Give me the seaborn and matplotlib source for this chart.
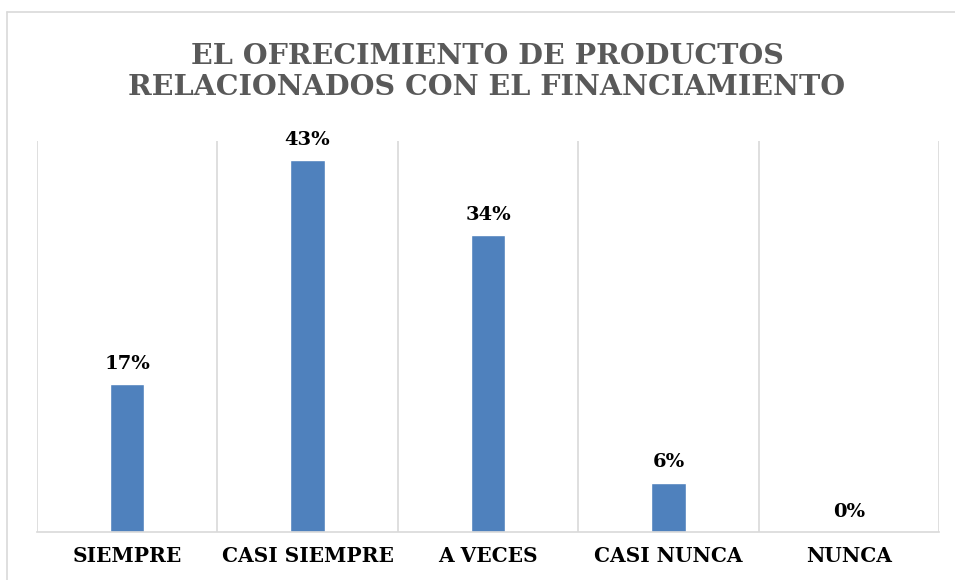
import matplotlib
matplotlib.use("Agg")
import matplotlib.pyplot as plt
from matplotlib.lines import Line2D
import pandas as pd
import seaborn as sns

categorias = ["SIEMPRE", "CASI SIEMPRE", "A VECES", "CASI NUNCA", "NUNCA"]
porcentajes = [0.171, 0.429, 0.343, 0.057, 0.0]
etiquetas = ["17%", "43%", "34%", "6%", "0%"]
titulo = "EL OFRECIMIENTO DE PRODUCTOS\nRELACIONADOS CON EL FINANCIAMIENTO"

df = pd.DataFrame({"categoria": categorias, "porcentaje": porcentajes})

sns.set_style("white")
plt.rcParams["font.family"] = ["DejaVu Serif", "DejaVu Sans"]

fig = plt.figure(figsize=(9.55, 5.8), dpi=100)
ax = fig.add_axes([37 / 955, 1 - 532 / 580, (939 - 37) / 955, (532 - 141) / 580])

sns.barplot(data=df, x="categoria", y="porcentaje", color="#4F81BD",
            saturation=1, width=0.19, ax=ax)

ax.set_ylim(0, 0.451)
ax.set_xlim(-0.5, len(categorias) - 0.5)

# separadores verticales entre categorias
for i in range(len(categorias) + 1):
    ax.axvline(i - 0.5, color="#d9d9d9", lw=1.2, zorder=0)

for s in ["top", "right", "left"]:
    ax.spines[s].set_visible(False)
ax.spines["bottom"].set_color("#d9d9d9")
ax.spines["bottom"].set_linewidth(1.2)

ax.set_yticks([])
ax.set_xlabel("")
ax.set_ylabel("")
ax.tick_params(axis="x", length=0, pad=10)
ax.set_xticks(range(len(categorias)))
ax.set_xticklabels(categorias, fontsize=14.5, fontweight="bold", color="black")

ax.bar_label(ax.containers[0], labels=etiquetas, padding=8,
             fontsize=14, fontweight="bold", color="black")

fig.text(487 / 955, 1 - 72 / 580, titulo, ha="center", va="center",
         fontsize=20.5, fontweight="bold", color="#595959", linespacing=1.2)

# borde exterior del grafico
fig.add_artist(Line2D([7 / 955, 1], [1 - 12 / 580, 1 - 12 / 580],
                      transform=fig.transFigure, color="#d9d9d9", lw=1.2))
fig.add_artist(Line2D([7 / 955, 7 / 955], [0, 1 - 12 / 580],
                      transform=fig.transFigure, color="#d9d9d9", lw=1.2))

fig.savefig("out.png", dpi=100, facecolor="white")
